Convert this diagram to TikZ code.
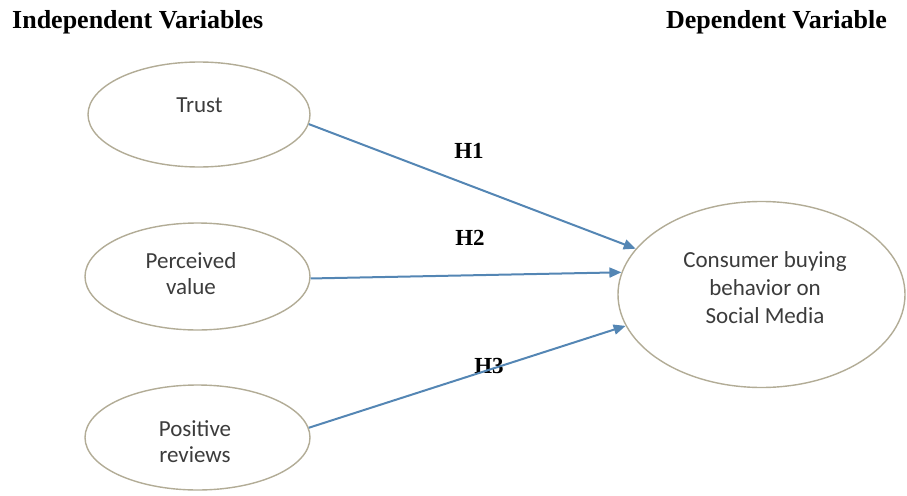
\documentclass[tikz,border=0pt]{standalone}
\usepackage{fontspec}
\setmainfont{Liberation Serif}
\newfontfamily\labelfont{Carlito}
\usetikzlibrary{shapes.geometric,arrows.meta}
\definecolor{rim}{RGB}{178,172,150}
\definecolor{linkblue}{RGB}{84,134,180}
\definecolor{ink}{RGB}{60,60,60}
\begin{document}
\begin{tikzpicture}[x=1pt,y=-1pt,
  construct/.style={ellipse, draw=rim, line width=1.4pt, fill=white, inner sep=0pt},
  caption/.style={font=\labelfont\fontsize{23}{26}\selectfont, text=ink, align=center, inner sep=0pt},
  heading/.style={font=\bfseries\fontsize{26}{30}\selectfont, anchor=base west, inner sep=0pt},
  hyp/.style={font=\bfseries\fontsize{23}{26}\selectfont, anchor=base, inner sep=0pt},
  hyplink/.style={draw=linkblue, line width=2pt, -{Triangle[length=12pt,width=10pt]}}
]
\useasboundingbox (0,0) rectangle (907,495);

% column headings
\node[heading] (indep) at (12,29) {Independent Variables};
\node[heading, anchor=base east] (dep) at (887,29) {Dependent Variable};

% constructs
\node[construct, minimum width=222pt, minimum height=105pt] (trust) at (199,114.5) {};
\node[construct, minimum width=225pt, minimum height=107pt] (value) at (197.5,276.5) {};
\node[construct, minimum width=225pt, minimum height=105pt] (reviews) at (197.5,437.5) {};
\node[construct, minimum width=287pt, minimum height=186pt] (buying) at (761.5,294.5) {};

% construct captions
\node[caption, anchor=base] (trust-t) at (199.5,112) {Trust};
\node[caption] (value-t) at (191,273.5) {Perceived\\value};
\node[caption] (reviews-t) at (195,442) {Positive\\reviews};
\node[caption, font=\labelfont\fontsize{23}{28}\selectfont] (buying-t) at (765,287.5) {Consumer buying\\behavior on\\Social Media};

% hypothesis labels
\node[hyp] (h1) at (469,158) {H1};
\node[hyp] (h2) at (470,245) {H2};
\node[hyp] (h3) at (489,373) {H3};

% hypothesised paths
\draw[hyplink] (trust.-5) -- (buying.160);
\draw[hyplink] (value.-1) -- (buying.171);
\draw[hyplink] (reviews.5) -- (buying.193);
\end{tikzpicture}
\end{document}
